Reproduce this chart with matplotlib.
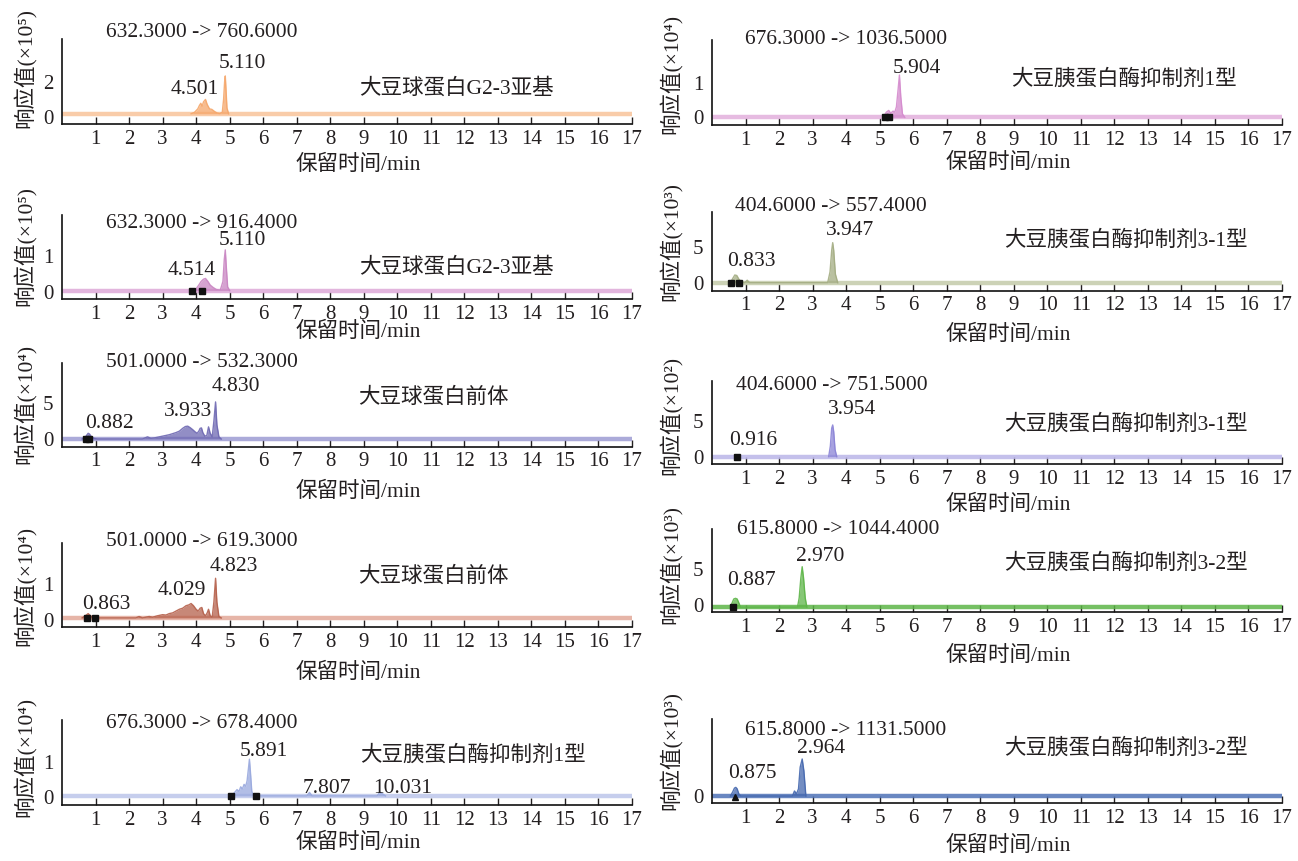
import matplotlib
matplotlib.use("Agg")
import matplotlib.pyplot as plt

plt.rcParams['font.family'] = ['Liberation Serif', 'Noto Sans CJK SC']
plt.rcParams['font.size'] = 15
TXT = '#231F20'

W, H = 1298, 861

# ---------------- data (retention time in min, response in axis units) ----------------
transitions = ["632.3000 -> 760.6000", "632.3000 -> 916.4000", "501.0000 -> 532.3000",
               "501.0000 -> 619.3000", "676.3000 -> 678.4000", "676.3000 -> 1036.5000",
               "404.6000 -> 557.4000", "404.6000 -> 751.5000", "615.8000 -> 1044.4000",
               "615.8000 -> 1131.5000"]
compounds = ["大豆球蛋白G2-3亚基", "大豆球蛋白G2-3亚基", "大豆球蛋白前体", "大豆球蛋白前体",
             "大豆胰蛋白酶抑制剂1型", "大豆胰蛋白酶抑制剂1型", "大豆胰蛋白酶抑制剂3-1型",
             "大豆胰蛋白酶抑制剂3-1型", "大豆胰蛋白酶抑制剂3-2型", "大豆胰蛋白酶抑制剂3-2型"]
exponents = ["⁵", "⁵", "⁴", "⁴", "⁴", "⁴", "³", "²", "³", "³"]
yticks_list = [[0, 2], [0, 1], [0, 5], [0, 1], [0, 1], [0, 1], [0, 5], [0, 5], [0, 5], [0]]
baselines = [0.17, 0.05, 0.0, 0.06, 0.02, 0.0, 0.0, 0.0, -0.3, 0.0]

p1_t = [3.85, 3.95, 4.05, 4.10, 4.14, 4.18, 4.22, 4.28, 4.33, 4.40, 4.47, 4.55, 4.62, 4.70, 4.78, 4.82, 4.85, 4.87, 4.89, 4.92, 4.97]
p1_y = [0.17, 0.25, 0.45, 0.65, 0.77, 0.60, 0.85, 0.99, 0.70, 0.45, 0.42, 0.30, 0.22, 0.18, 0.25, 1.00, 2.00, 2.33, 1.60, 0.50, 0.17]
p1_labels = ["4.501", "5.110"]

p2_t = [3.90, 4.00, 4.08, 4.15, 4.22, 4.28, 4.35, 4.42, 4.50, 4.60, 4.72, 4.80, 4.84, 4.87, 4.90, 4.94, 5.00]
p2_y = [0.05, 0.10, 0.20, 0.30, 0.36, 0.38, 0.30, 0.20, 0.14, 0.08, 0.06, 0.30, 0.90, 1.16, 0.70, 0.15, 0.05]
p2_labels = ["4.514", "5.110"]

p3_t = [0.60, 0.70, 0.78, 0.82, 0.88, 0.95, 1.05, 2.40, 2.55, 2.65, 2.75, 2.90, 3.00, 3.10, 3.20, 3.30, 3.40, 3.50, 3.60, 3.68,
        3.75, 3.82, 3.90, 3.97, 4.03, 4.08, 4.12, 4.16, 4.20, 4.26, 4.32, 4.37, 4.42, 4.48, 4.53, 4.58, 4.62, 4.68, 4.75]
p3_y = [0.0, 0.3, 0.8, 0.7, 0.3, 0.1, 0.0, 0.0, 0.3, 0.1, 0.15, 0.3, 0.4, 0.5, 0.6, 0.75, 0.9, 1.1, 1.5, 1.75,
        1.8, 1.6, 1.3, 1.0, 0.8, 1.1, 1.5, 1.55, 0.9, 0.4, 0.5, 1.7, 0.8, 0.3, 2.5, 5.2, 2.0, 0.3, 0.0]
p3_labels = ["0.882", "3.933", "4.830"]

p4_t = [0.60, 0.70, 0.78, 0.85, 0.95, 2.20, 2.30, 2.40, 2.60, 2.70, 2.85, 3.00, 3.10, 3.20, 3.30, 3.40, 3.50, 3.60, 3.70,
        3.78, 3.85, 3.92, 4.00, 4.06, 4.12, 4.17, 4.22, 4.28, 4.33, 4.37, 4.42, 4.48, 4.53, 4.58, 4.62, 4.68, 4.75]
p4_y = [0.06, 0.12, 0.18, 0.12, 0.06, 0.06, 0.10, 0.06, 0.10, 0.08, 0.12, 0.15, 0.14, 0.18, 0.20, 0.25, 0.30, 0.33, 0.40,
        0.42, 0.46, 0.40, 0.30, 0.25, 0.33, 0.35, 0.18, 0.12, 0.20, 0.30, 0.12, 0.08, 0.50, 1.16, 0.50, 0.10, 0.06]
p4_labels = ["0.863", "4.029", "4.823"]

p5_t = [5.05, 5.15, 5.22, 5.28, 5.33, 5.38, 5.43, 5.48, 5.52, 5.56, 5.59, 5.62, 5.66, 5.72, 7.30, 7.38, 7.46, 9.40, 9.48, 9.56, 9.65]
p5_y = [0.02, 0.12, 0.20, 0.15, 0.28, 0.22, 0.35, 0.30, 0.45, 0.80, 1.07, 0.70, 0.15, 0.02, 0.02, 0.12, 0.02, 0.02, 0.13, 0.08, 0.02]
p5_labels = ["5.891", "7.807", "10.031"]

p6_t = [5.10, 5.20, 5.27, 5.33, 5.40, 5.45, 5.50, 5.55, 5.59, 5.63, 5.68, 5.75]
p6_y = [0.0, 0.15, 0.20, 0.12, 0.18, 0.15, 0.30, 0.80, 1.22, 0.60, 0.10, 0.0]
p6_labels = ["5.904"]

p7_t = [0.55, 0.62, 0.68, 0.74, 0.80, 0.88, 0.98, 1.05, 1.12, 3.45, 3.52, 3.57, 3.60, 3.63, 3.68, 3.75]
p7_y = [0.0, 0.6, 1.07, 1.0, 0.5, 0.1, 0.0, 0.35, 0.0, 0.0, 1.5, 4.5, 5.56, 4.5, 1.2, 0.0]
p7_labels = ["0.833", "3.947"]

p8_t = [3.48, 3.53, 3.57, 3.60, 3.63, 3.67, 3.72]
p8_y = [0.0, 1.5, 4.0, 4.45, 3.5, 1.0, 0.0]
p8_labels = ["0.916", "3.954"]

p9_t = [0.55, 0.60, 0.65, 0.70, 0.75, 0.80, 0.85, 2.55, 2.60, 2.65, 2.69, 2.73, 2.78, 2.83]
p9_y = [-0.3, 0.3, 0.85, 0.94, 0.85, 0.3, -0.3, -0.3, 1.0, 3.8, 5.37, 3.8, 1.0, -0.3]
p9_labels = ["0.887", "2.970"]

p10_t = [0.55, 0.62, 0.67, 0.71, 0.75, 0.80, 0.86, 2.40, 2.46, 2.52, 2.58, 2.63, 2.69, 2.74, 2.80]
p10_y = [0.0, 0.6, 1.1, 1.2, 1.0, 0.3, 0.0, 0.0, 0.7, 0.3, 1.0, 4.0, 5.14, 3.5, 0.0]
p10_labels = ["0.875", "2.964"]

# integration markers (retention times)
m1, m2, m3, m4, m5 = [], [3.87, 4.18], [0.72, 0.80], [0.76, 0.99], [5.03, 5.80]
m6, m7, m8, m9, m10 = [5.15, 5.28], [0.57, 0.80], [0.74], [0.63], []

traces_t = [p1_t, p2_t, p3_t, p4_t, p5_t, p6_t, p7_t, p8_t, p9_t, p10_t]
traces_y = [p1_y, p2_y, p3_y, p4_y, p5_y, p6_y, p7_y, p8_y, p9_y, p10_y]
peak_labels = [p1_labels, p2_labels, p3_labels, p4_labels, p5_labels, p6_labels,
               p7_labels, p8_labels, p9_labels, p10_labels]
markers = [m1, m2, m3, m4, m5, m6, m7, m8, m9, m10]

# ---------------- styling / layout ----------------
band_colors = ['#F9C49A', '#DDA8D8', '#9D9BD3', '#E2A899', '#BCC6EA',
               '#E2B0DC', '#C4CBAA', '#BAB5E8', '#5DB548', '#4F72B6']
fill_colors = ['#F5A66A', '#C985C2', '#6E68B2', '#B5604B', '#99A9DE',
               '#D48ACD', '#A3AC82', '#8A83D6', '#5DB548', '#4467AE']

# axes pixel boxes: (left, top, bottom), width fixed
boxes = [(62, 39.3, 124.3), (62, 215, 299), (62, 362.7, 446.7), (62, 543.3, 627.3), (62, 720, 805),
         (712, 40, 125), (712, 211.7, 290.7), (712, 380.7, 464.3), (712, 529, 612.3), (712, 719.3, 803.3)]
ylims = [(-0.43, 4.42), (-0.18, 2.11), (-1.08, 10.7), (-0.2, 2.13), (-0.24, 2.19),
         (-0.22, 2.23), (-1.11, 9.86), (-1.07, 10.66), (-1.02, 10.66), (-1.01, 10.65)]
title_pos = [(4.18, 4.82), (4.18, 1.89), (4.18, 10.7), (4.18, 2.17), (4.18, 2.1),
             (4.0, 2.25), (3.56, 10.55), (3.56, 9.96), (3.75, 10.66), (4.0, 9.07)]
comp_pos = [(11.76, 1.61), (11.76, 0.68), (11.08, 5.84), (11.08, 1.2), (12.27, 1.16),
            (12.29, 1.08), (12.35, 5.9), (12.35, 4.45), (12.35, 5.85), (12.35, 6.62)]
label_pos = [[(3.97, 1.53), (5.37, 3.06)],
             [(3.87, 0.61), (5.39, 1.41)],
             [(1.41, 2.2), (3.75, 3.8), (5.18, 7.3)],
             [(1.32, 0.42), (3.56, 0.83), (5.11, 1.48)],
             [(6.01, 1.29), (7.91, 0.24), (10.15, 0.24)],
             [(6.12, 1.42)],
             [(1.17, 2.9), (4.13, 7.2)],
             [(1.23, 2.24), (4.19, 6.55)],
             [(1.17, 3.37), (3.23, 6.77)],
             [(1.2, 3.06), (3.25, 6.62)]]
xlabel_y = [165, 332, 492, 673, 843, 163, 335, 505, 656, 846]
ylabel_y = [68, 245.7, 404, 585.7, 756.7, 74, 241.7, 415.7, 565, 750]

AX_W = 570
fig = plt.figure(figsize=(W / 100, H / 100), dpi=100)

for i in range(10):
    left, top, bottom = boxes[i]
    ax = fig.add_axes([left / W, 1 - bottom / H, AX_W / W, (bottom - top) / H])
    b = baselines[i]
    ax.plot([0, 17], [b, b], color=band_colors[i], lw=3.2, alpha=0.85,
            solid_capstyle='butt', zorder=2)
    ax.fill_between(traces_t[i], b, traces_y[i], color=fill_colors[i], alpha=0.75,
                    lw=0, zorder=3)
    ax.plot(traces_t[i], traces_y[i], color=fill_colors[i], lw=1.0, alpha=0.9, zorder=3)
    if markers[i]:
        ax.plot(markers[i], [b] * len(markers[i]), ls='none', marker='s', ms=5,
                color='#111111', zorder=5)
    if i == 9:
        ax.plot([0.7], [b - 0.2], ls='none', marker='^', ms=4, color='#111111', zorder=5)

    ax.set_xlim(0, 17)
    ax.set_ylim(*ylims[i])
    ax.set_xticks(range(1, 18))
    ax.set_yticks(yticks_list[i])
    ax.tick_params(axis='x', direction='in', length=5, width=1.0, pad=4,
                   labelsize=15, colors=TXT)
    ax.tick_params(axis='y', length=0, pad=6, labelsize=15, colors=TXT)
    for s in ('top', 'right'):
        ax.spines[s].set_visible(False)
    for s in ('left', 'bottom'):
        ax.spines[s].set_linewidth(1.2)
        ax.spines[s].set_color('#111111')
    ax.patch.set_alpha(0)

    ax.text(*title_pos[i], transitions[i], ha='center', va='center', fontsize=15.5,
            color=TXT, clip_on=False)
    ax.text(*comp_pos[i], compounds[i], ha='center', va='center', fontsize=15.5,
            color=TXT)
    for lab, pos in zip(peak_labels[i], label_pos[i]):
        ax.text(*pos, lab, ha='center', va='center', fontsize=15.5, color=TXT)

    cx = 358 if left < 300 else 1008
    fig.text(cx / W, 1 - xlabel_y[i] / H, "保留时间/min", ha='center', va='center',
             fontsize=15.5, color=TXT)
    yx = 25 if left < 300 else 671
    fig.text(yx / W, 1 - ylabel_y[i] / H, "响应值(×10" + exponents[i] + ")", ha='center',
             va='center', rotation=90, fontsize=15.5, color=TXT)

fig.savefig("out.png", dpi=100)
